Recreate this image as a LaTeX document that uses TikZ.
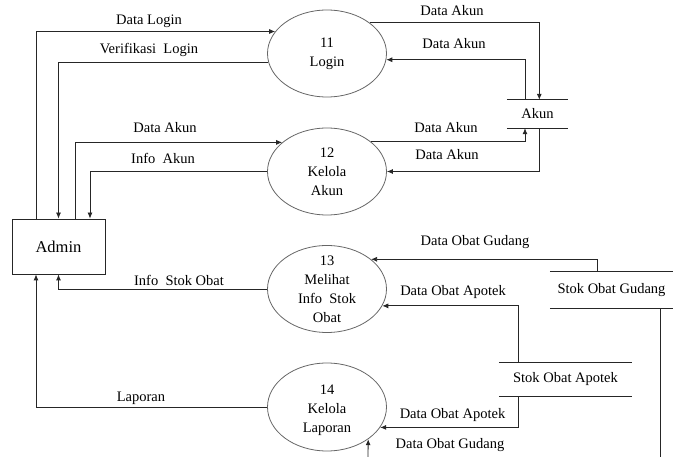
\documentclass[tikz,border=0pt]{standalone}
\usepackage{fontspec}
\setmainfont{Liberation Serif}
\usetikzlibrary{shapes.geometric,arrows.meta}
\begin{document}
\begin{tikzpicture}[x=1pt,y=-1pt,
  lbl/.style={font=\rmfamily\fontsize{14.5}{19}\selectfont, inner sep=0pt, text=black},
  proc/.style={ellipse, draw=black!60, line width=0.8pt, minimum width=119pt, minimum height=87pt, inner sep=0pt},
  ptext/.style={font=\rmfamily\fontsize{14.5}{19}\selectfont, align=center, inner sep=0pt, text=black},
  flow/.style={draw=black!85, line width=0.8pt, -{Latex[length=6pt,width=5pt]}},
  plain/.style={draw=black!85, line width=0.8pt},
  store/.style={minimum width=#1, inner sep=0pt, font=\rmfamily\fontsize{14.5}{19}\selectfont, text=black},
  storeline/.style={draw=black!85, line width=0.8pt}]
\useasboundingbox (0,0) rectangle (673,457);

% external entity
\node[draw=black!85, line width=0.8pt, minimum width=93pt, minimum height=55pt, inner sep=0pt,
      font=\rmfamily\fontsize{16.5}{20}\selectfont] (admin) at (58.5,246.5) {Admin};

% processes
\node[proc] (e11) at (327,53.5) {};
\node[proc] (e12) at (327,171.5) {};
\node[proc] (e13) at (327,289) {};
\node[proc, minimum height=88pt] (e14) at (327,407) {};
\node[ptext] (t11) at (327,54) {11\\Login};
\node[ptext] (t12) at (327,172) {12\\Kelola\\Akun};
\node[ptext] (t13) at (327,289.5) {13\\Melihat\\Info\ \ Stok\\Obat};
\node[ptext] (t14) at (327,410) {14\\Kelola\\Laporan};

% data stores
\node[store=61pt, minimum height=28pt] (akun) at (537.5,114) {Akun};
\node[store=123pt, minimum height=36pt] (gudang) at (611.5,290) {Stok Obat Gudang};
\node[store=133pt, minimum height=33pt] (apotek) at (565.5,379.5) {Stok Obat Apotek};
\foreach \s in {akun,gudang,apotek}{
  \draw[storeline] (\s.north west) -- (\s.north east);
  \draw[storeline] (\s.south west) -- (\s.south east);
}

% free ends at the lower border
\coordinate (gend) at (660,457);
\coordinate (gstart) at (368,457);

% flows between Admin and processes
\draw[flow] ([xshift=-22.5pt]admin.north) |- (e11.157.4);
\draw[flow] (e11.189.3) -| (admin.north);
\draw[flow] ([xshift=16.5pt]admin.north) |- (e12.147.7);
\draw[flow] (e12.west) -| ([xshift=31.5pt]admin.north);
\draw[flow] (e13.west) -| (admin.south);
\draw[flow] (e14.west) -| ([xshift=-22.5pt]admin.south);

% flows with Akun
\draw[flow] (e11.36.3) -| ([xshift=1.8pt]akun.north);
\draw[flow] ([xshift=-12.5pt]akun.north) |- (e11.-6.3);
\draw[flow] (e12.34.5) -| ([xshift=-12.5pt]akun.south);
\draw[flow] ([xshift=1.8pt]akun.south) |- (e12.east);

% flows with stock stores
\draw[flow] ([xshift=-14.5pt]gudang.north) |- (e13.34.3);
\draw[flow] ([xshift=-47.5pt]apotek.north) |- (e13.-17.2);
\draw[flow] ([xshift=-47.5pt]apotek.south) |- (e14.-21.5);
\draw[plain] ([xshift=48.5pt]gudang.south) -- (gend);
\draw[flow] (gstart) -- (e14.322.1);

% labels
\node[lbl] (l1) at (149,21) {Data Login};
\node[lbl] (l2) at (149,50) {Verifikasi\ \ Login};
\node[lbl] (l3) at (165,128) {Data Akun};
\node[lbl] (l4) at (163,158) {Info\ \ Akun};
\node[lbl] (l5) at (179,280) {Info\ \ Stok Obat};
\node[lbl] (l6) at (141,398) {Laporan};
\node[lbl] (l7) at (452,11) {Data Akun};
\node[lbl] (l8) at (454,44) {Data Akun};
\node[lbl] (l9) at (446,128) {Data Akun};
\node[lbl] (l10) at (447,155) {Data Akun};
\node[lbl] (l11) at (475,242) {Data Obat Gudang};
\node[lbl] (l12) at (453,292) {Data Obat Apotek};
\node[lbl] (l13) at (452.5,415) {Data Obat Apotek};
\node[lbl] (l14) at (450,445) {Data Obat Gudang};
\end{tikzpicture}
\end{document}
